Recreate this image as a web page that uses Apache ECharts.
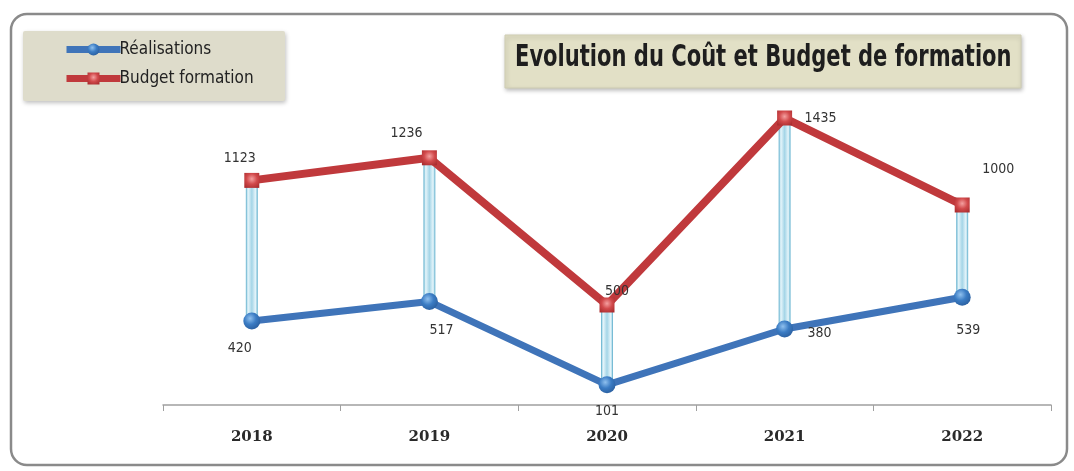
<!DOCTYPE html>
<html><head><meta charset="utf-8">
<script src="https://cdn.jsdelivr.net/npm/echarts@6/dist/echarts.min.js"></script>
<style>html,body{margin:0;padding:0;background:#fff}#c{width:1074px;height:471px}</style>
</head><body><div id="c"></div>
<script>
var categories = ['2018', '2019', '2020', '2021', '2022'];
var realisations = [420, 517, 101, 380, 539];
var budget = [1123, 1236, 500, 1435, 1000];
var titleText = 'Evolution du Coût et Budget de formation';

// label offsets (style, not data)
var budgetLabelOffset = [[-12, -22], [-23, -24], [10, -14], [36, 0], [36, -36]];
var realLabelOffset = [[-12, 27], [12, 29], [0, 27], [35, 4], [6, 33]];

var lowVals = categories.map(function (c, i) { return Math.min(realisations[i], budget[i]); });
var spanVals = categories.map(function (c, i) { return Math.abs(budget[i] - realisations[i]); });

var chart = echarts.init(document.getElementById('c'));
var narrow = '"DejaVu Sans Condensed", "Liberation Sans Narrow", sans-serif';
var labelFont = { fontFamily: narrow, fontSize: 14, color: '#333' };

function buildData(vals, offs) {
  return vals.map(function (v, i) {
    return { value: v, label: { offset: offs[i] } };
  });
}

chart.setOption({
  backgroundColor: '#fff',
  animation: false,
  graphic: [
    { type: 'rect', z: -10, shape: { x: 11, y: 14, width: 1056, height: 451, r: 16 },
      style: { fill: '#fff', stroke: '#8a8a8a', lineWidth: 2.5 } },
    { type: 'rect', z: -5, shape: { x: 23, y: 31, width: 262, height: 70, r: 2 },
      style: { fill: '#dedccb', shadowBlur: 4, shadowColor: 'rgba(0,0,0,0.25)', shadowOffsetX: 1, shadowOffsetY: 2 } },
    { type: 'rect', z: -5, shape: { x: 505, y: 35, width: 516, height: 53 },
      style: { fill: '#e2e0c6', stroke: '#cfcdb2', lineWidth: 1, shadowBlur: 4, shadowColor: 'rgba(0,0,0,0.25)', shadowOffsetX: 1, shadowOffsetY: 2 } },
    { type: 'text', z: 10, x: 515, y: 43, scaleX: 0.78, scaleY: 1,
      style: { text: titleText, fill: '#1e1e1e', font: 'bold 30px "DejaVu Sans Condensed", sans-serif' } }
  ],
  legend: {
    data: ['Réalisations', 'Budget formation'],
    orient: 'vertical',
    left: 58, top: 36,
    itemWidth: 54, itemHeight: 15, itemGap: 12,
    lineStyle: { width: 7 },
    textStyle: { fontFamily: narrow, fontSize: 17, color: '#222', padding: [0, 0, 0, -6] }
  },
  grid: { left: 163, right: 23, top: 85, bottom: 66 },
  xAxis: {
    type: 'category', data: categories, boundaryGap: true,
    axisLine: { lineStyle: { color: '#a0a0a0', width: 1.5 } },
    axisTick: { show: true, length: 6, lineStyle: { color: '#a0a0a0' } },
    axisLabel: { margin: 25, fontFamily: '"DejaVu Serif", serif', fontWeight: 'bold', fontSize: 15, color: '#2a2a2a' }
  },
  yAxis: { type: 'value', min: 0, max: 1600, show: false, splitLine: { show: false } },
  series: [
    { name: 'base', type: 'bar', stack: 'hl', data: lowVals, barWidth: 12, silent: true,
      itemStyle: { color: 'rgba(0,0,0,0)' }, z: 1 },
    { name: 'hl', type: 'bar', stack: 'hl', data: spanVals, barWidth: 12, silent: true,
      itemStyle: { color: { type: 'linear', x: 0, y: 0, x2: 1, y2: 0, colorStops: [
        { offset: 0, color: '#86c6dc' }, { offset: 0.2, color: '#e4f4fa' }, { offset: 0.5, color: '#a4d5e7' },
        { offset: 0.8, color: '#e4f4fa' }, { offset: 1, color: '#86c6dc' }] },
        borderColor: '#78bcd5', borderWidth: 1 }, z: 1 },
    { name: 'Réalisations', type: 'line', data: buildData(realisations, realLabelOffset), z: 5,
      symbol: 'circle', symbolSize: 17,
      lineStyle: { color: '#3f74b9', width: 7 },
      itemStyle: { color: { type: 'radial', x: 0.4, y: 0.35, r: 0.7, colorStops: [
        { offset: 0, color: '#8fc0ee' }, { offset: 0.5, color: '#3b7cc4' }, { offset: 1, color: '#2a5e9e' }] } },
      label: Object.assign({ show: true, position: 'inside' }, labelFont) },
    { name: 'Budget formation', type: 'line', data: buildData(budget, budgetLabelOffset), z: 6,
      symbol: 'rect', symbolSize: 15,
      lineStyle: { color: '#c0393c', width: 8 },
      itemStyle: { color: { type: 'radial', x: 0.5, y: 0.4, r: 0.7, colorStops: [
        { offset: 0, color: '#f4a0a0' }, { offset: 0.5, color: '#d24a4c' }, { offset: 1, color: '#a92c2e' }] } },
      label: Object.assign({ show: true, position: 'inside' }, labelFont) }
  ]
});
</script></body></html>
